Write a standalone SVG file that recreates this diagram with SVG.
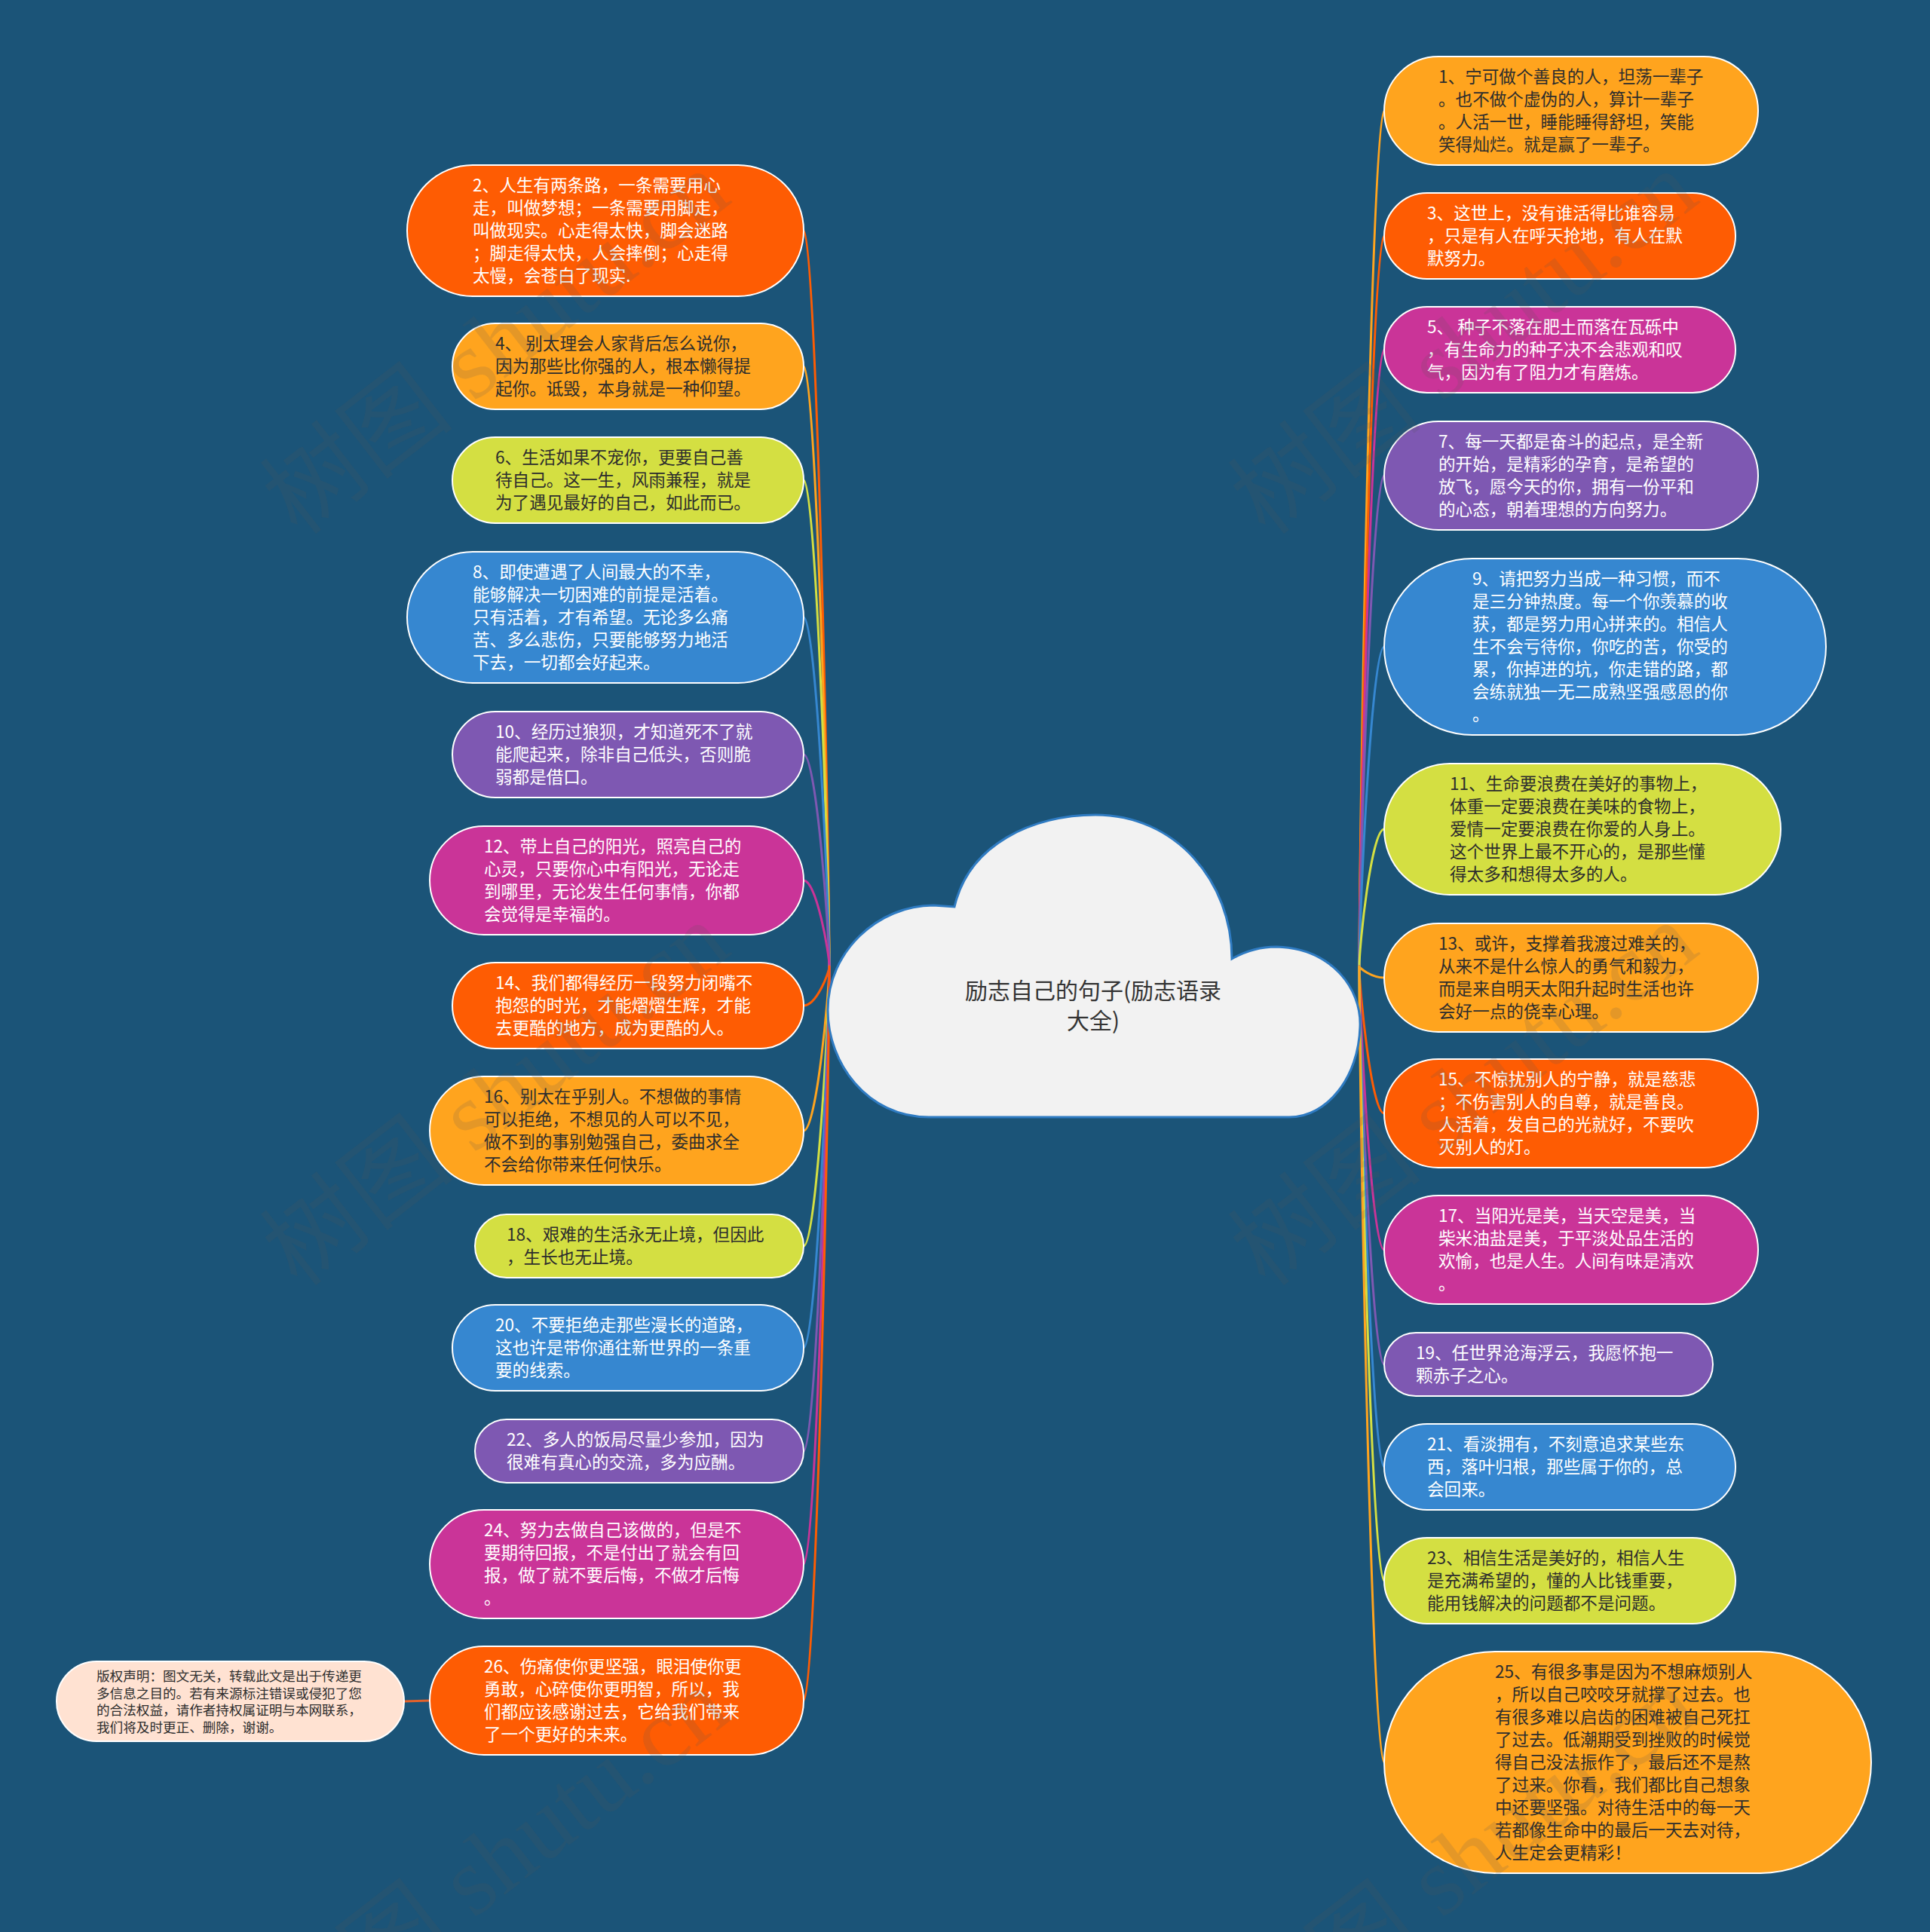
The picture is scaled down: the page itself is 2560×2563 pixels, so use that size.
<svg xmlns="http://www.w3.org/2000/svg" width="2560" height="2563" viewBox="0 0 2560 2563">
<style>
.node rect{stroke:#ffffff;stroke-width:2}
.node text{font-family:"Noto Sans CJK SC","Noto Sans",sans-serif;font-size:22.6px}
.w{fill:#ffffff}
.d{fill:#2d2d2d}
.or{fill:#FE5C03}.am{fill:#FFA41E}.yg{fill:#D4DF42}.bl{fill:#3687D0}.pu{fill:#7E58B2}.mg{fill:#CA3498}
.cn path{fill:none;stroke-width:3;stroke-linecap:round}
.sor{stroke:#FE5C03}.sam{stroke:#FFA41E}.syg{stroke:#D4DF42}.sbl{stroke:#3687D0}.spu{stroke:#7E58B2}.smg{stroke:#CA3498}
.wm text{font-family:"Liberation Serif","Noto Sans CJK SC",serif;font-size:130px;fill:#555555;fill-opacity:0.16}
</style>
<rect x="0" y="0" width="2560" height="2563" fill="#1B5478"/>
<g id="connectors" class="cn">
<path class="sor" d="M1066 306 C1083 306 1100 1136 1100 1282"/>
<path class="sam" d="M1066 486 C1083 486 1100 1163 1100 1282"/>
<path class="syg" d="M1066 637 C1083 637 1100 1185 1100 1282"/>
<path class="sbl" d="M1066 819 C1083 819 1100 1213 1100 1282"/>
<path class="spu" d="M1066 1001 C1083 1001 1100 1240 1100 1282"/>
<path class="smg" d="M1066 1168 C1083 1168 1100 1265 1100 1282"/>
<path class="sor" d="M1066 1334 C1083 1334 1100 1290 1100 1282"/>
<path class="sam" d="M1066 1500 C1083 1500 1100 1315 1100 1282"/>
<path class="syg" d="M1066 1653 C1083 1653 1100 1338 1100 1282"/>
<path class="sbl" d="M1066 1788 C1083 1788 1100 1358 1100 1282"/>
<path class="spu" d="M1066 1925 C1083 1925 1100 1378 1100 1282"/>
<path class="smg" d="M1066 2075 C1083 2075 1100 1401 1100 1282"/>
<path class="sor" d="M1066 2256 C1083 2256 1100 1428 1100 1282"/>
<path class="sam" d="M1836 147 C1819 147 1803 1112 1803 1282"/>
<path class="sor" d="M1836 313 C1819 313 1803 1137 1803 1282"/>
<path class="smg" d="M1836 464 C1819 464 1803 1159 1803 1282"/>
<path class="spu" d="M1836 631 C1819 631 1803 1184 1803 1282"/>
<path class="sbl" d="M1836 858 C1819 858 1803 1218 1803 1282"/>
<path class="syg" d="M1836 1100 C1819 1100 1803 1255 1803 1282"/>
<path class="sam" d="M1836 1297 C1819 1297 1803 1284 1803 1282"/>
<path class="sor" d="M1836 1477 C1819 1477 1803 1311 1803 1282"/>
<path class="smg" d="M1836 1658 C1819 1658 1803 1338 1803 1282"/>
<path class="spu" d="M1836 1810 C1819 1810 1803 1361 1803 1282"/>
<path class="sbl" d="M1836 1946 C1819 1946 1803 1382 1803 1282"/>
<path class="syg" d="M1836 2097 C1819 2097 1803 1404 1803 1282"/>
<path class="sam" d="M1836 2338 C1819 2338 1803 1440 1803 1282"/>
<path d="M570 2256 L536 2257" stroke="#E2622C" stroke-width="4"/>
</g>
<g id="root">
<path d="M1266 1203 C1285 1120 1370 1081 1453 1081 C1560 1081 1634 1170 1634 1272 C1655 1260 1675 1256 1693 1256 C1765 1258 1806 1310 1804 1362 C1802 1430 1760 1482 1710 1482 L1232 1482 C1150 1482 1098 1410 1098 1340 C1098 1262 1165 1201 1238 1201 Z" fill="#F2F2F2" stroke="#2F7BC2" stroke-width="3"/>
<text x="1450" y="1325" text-anchor="middle" font-family="Noto Sans CJK SC, sans-serif" font-size="30" fill="#333333">励志自己的句子(励志语录</text>
<text x="1450" y="1365" text-anchor="middle" font-family="Noto Sans CJK SC, sans-serif" font-size="30" fill="#333333">大全)</text>
</g>
<g id="n2" class="node"><rect class="or" x="540" y="219" width="526" height="174" rx="87"/><text class="w"><tspan x="627" y="254">2、人生有两条路，一条需要用心</tspan><tspan x="627" y="284">走，叫做梦想；一条需要用脚走，</tspan><tspan x="627" y="314">叫做现实。心走得太快，脚会迷路</tspan><tspan x="627" y="344">；脚走得太快，人会摔倒；心走得</tspan><tspan x="627" y="374">太慢，会苍白了现实.</tspan></text></g>
<g id="n4" class="node"><rect class="am" x="600" y="429" width="466" height="114" rx="57"/><text class="d"><tspan x="657" y="464">4、 别太理会人家背后怎么说你，</tspan><tspan x="657" y="494">因为那些比你强的人，根本懒得提</tspan><tspan x="657" y="524">起你。诋毁，本身就是一种仰望。</tspan></text></g>
<g id="n6" class="node"><rect class="yg" x="600" y="580" width="466" height="114" rx="57"/><text class="d"><tspan x="657" y="615">6、生活如果不宠你，更要自己善</tspan><tspan x="657" y="645">待自己。这一生，风雨兼程，就是</tspan><tspan x="657" y="675">为了遇见最好的自己，如此而已。</tspan></text></g>
<g id="n8" class="node"><rect class="bl" x="540" y="732" width="526" height="174" rx="87"/><text class="w"><tspan x="627" y="767">8、即使遭遇了人间最大的不幸，</tspan><tspan x="627" y="797">能够解决一切困难的前提是活着。</tspan><tspan x="627" y="827">只有活着，才有希望。无论多么痛</tspan><tspan x="627" y="857">苦、多么悲伤，只要能够努力地活</tspan><tspan x="627" y="887">下去，一切都会好起来。</tspan></text></g>
<g id="n10" class="node"><rect class="pu" x="600" y="944" width="466" height="114" rx="57"/><text class="w"><tspan x="657" y="979">10、经历过狼狈，才知道死不了就</tspan><tspan x="657" y="1009">能爬起来，除非自己低头，否则脆</tspan><tspan x="657" y="1039">弱都是借口。</tspan></text></g>
<g id="n12" class="node"><rect class="mg" x="570" y="1096" width="496" height="144" rx="72"/><text class="w"><tspan x="642" y="1131">12、带上自己的阳光，照亮自己的</tspan><tspan x="642" y="1161">心灵，只要你心中有阳光，无论走</tspan><tspan x="642" y="1191">到哪里，无论发生任何事情，你都</tspan><tspan x="642" y="1221">会觉得是幸福的。</tspan></text></g>
<g id="n14" class="node"><rect class="or" x="600" y="1277" width="466" height="114" rx="57"/><text class="w"><tspan x="657" y="1312">14、我们都得经历一段努力闭嘴不</tspan><tspan x="657" y="1342">抱怨的时光，才能熠熠生辉，才能</tspan><tspan x="657" y="1372">去更酷的地方，成为更酷的人。</tspan></text></g>
<g id="n16" class="node"><rect class="am" x="570" y="1428" width="496" height="144" rx="72"/><text class="d"><tspan x="642" y="1463">16、别太在乎别人。不想做的事情</tspan><tspan x="642" y="1493">可以拒绝，不想见的人可以不见，</tspan><tspan x="642" y="1523">做不到的事别勉强自己，委曲求全</tspan><tspan x="642" y="1553">不会给你带来任何快乐。</tspan></text></g>
<g id="n18" class="node"><rect class="yg" x="630" y="1611" width="436" height="84" rx="42"/><text class="d"><tspan x="672" y="1646">18、艰难的生活永无止境，但因此</tspan><tspan x="672" y="1676">，生长也无止境。</tspan></text></g>
<g id="n20" class="node"><rect class="bl" x="600" y="1731" width="466" height="114" rx="57"/><text class="w"><tspan x="657" y="1766">20、不要拒绝走那些漫长的道路，</tspan><tspan x="657" y="1796">这也许是带你通往新世界的一条重</tspan><tspan x="657" y="1826">要的线索。</tspan></text></g>
<g id="n22" class="node"><rect class="pu" x="630" y="1883" width="436" height="84" rx="42"/><text class="w"><tspan x="672" y="1918">22、多人的饭局尽量少参加，因为</tspan><tspan x="672" y="1948">很难有真心的交流，多为应酬。</tspan></text></g>
<g id="n24" class="node"><rect class="mg" x="570" y="2003" width="496" height="144" rx="72"/><text class="w"><tspan x="642" y="2038">24、努力去做自己该做的，但是不</tspan><tspan x="642" y="2068">要期待回报，不是付出了就会有回</tspan><tspan x="642" y="2098">报，做了就不要后悔，不做才后悔</tspan><tspan x="642" y="2128">。</tspan></text></g>
<g id="n26" class="node"><rect class="or" x="570" y="2184" width="496" height="144" rx="72"/><text class="w"><tspan x="642" y="2219">26、伤痛使你更坚强，眼泪使你更</tspan><tspan x="642" y="2249">勇敢，心碎使你更明智，所以，我</tspan><tspan x="642" y="2279">们都应该感谢过去，它给我们带来</tspan><tspan x="642" y="2309">了一个更好的未来。</tspan></text></g>
<g id="copyright" class="node"><rect x="75" y="2204" width="461" height="106" rx="53" fill="#FFE2D2"/><text class="d" style="font-size:17.6px"><tspan x="128" y="2230">版权声明：图文无关，转载此文是出于传递更</tspan><tspan x="128" y="2252.5">多信息之目的。若有来源标注错误或侵犯了您</tspan><tspan x="128" y="2275">的合法权益，请作者持权属证明与本网联系，</tspan><tspan x="128" y="2297.5">我们将及时更正、删除，谢谢。</tspan></text></g>
<g id="n1" class="node"><rect class="am" x="1836" y="75" width="496" height="144" rx="72"/><text class="d"><tspan x="1908" y="110">1、宁可做个善良的人，坦荡一辈子</tspan><tspan x="1908" y="140">。也不做个虚伪的人，算计一辈子</tspan><tspan x="1908" y="170">。人活一世，睡能睡得舒坦，笑能</tspan><tspan x="1908" y="200">笑得灿烂。就是赢了一辈子。</tspan></text></g>
<g id="n3" class="node"><rect class="or" x="1836" y="256" width="466" height="114" rx="57"/><text class="w"><tspan x="1893" y="291">3、这世上，没有谁活得比谁容易</tspan><tspan x="1893" y="321">，只是有人在呼天抢地，有人在默</tspan><tspan x="1893" y="351">默努力。</tspan></text></g>
<g id="n5" class="node"><rect class="mg" x="1836" y="407" width="466" height="114" rx="57"/><text class="w"><tspan x="1893" y="442">5、 种子不落在肥土而落在瓦砾中</tspan><tspan x="1893" y="472">，有生命力的种子决不会悲观和叹</tspan><tspan x="1893" y="502">气，因为有了阻力才有磨炼。</tspan></text></g>
<g id="n7" class="node"><rect class="pu" x="1836" y="559" width="496" height="144" rx="72"/><text class="w"><tspan x="1908" y="594">7、每一天都是奋斗的起点，是全新</tspan><tspan x="1908" y="624">的开始，是精彩的孕育，是希望的</tspan><tspan x="1908" y="654">放飞，愿今天的你，拥有一份平和</tspan><tspan x="1908" y="684">的心态，朝着理想的方向努力。</tspan></text></g>
<g id="n9" class="node"><rect class="bl" x="1836" y="741" width="586" height="234" rx="117"/><text class="w"><tspan x="1953" y="776">9、请把努力当成一种习惯，而不</tspan><tspan x="1953" y="806">是三分钟热度。每一个你羡慕的收</tspan><tspan x="1953" y="836">获，都是努力用心拼来的。相信人</tspan><tspan x="1953" y="866">生不会亏待你，你吃的苦，你受的</tspan><tspan x="1953" y="896">累，你掉进的坑，你走错的路，都</tspan><tspan x="1953" y="926">会练就独一无二成熟坚强感恩的你</tspan><tspan x="1953" y="956">。</tspan></text></g>
<g id="n11" class="node"><rect class="yg" x="1836" y="1013" width="526" height="174" rx="87"/><text class="d"><tspan x="1923" y="1048">11、生命要浪费在美好的事物上，</tspan><tspan x="1923" y="1078">体重一定要浪费在美味的食物上，</tspan><tspan x="1923" y="1108">爱情一定要浪费在你爱的人身上。</tspan><tspan x="1923" y="1138">这个世界上最不开心的，是那些懂</tspan><tspan x="1923" y="1168">得太多和想得太多的人。</tspan></text></g>
<g id="n13" class="node"><rect class="am" x="1836" y="1225" width="496" height="144" rx="72"/><text class="d"><tspan x="1908" y="1260">13、或许，支撑着我渡过难关的，</tspan><tspan x="1908" y="1290">从来不是什么惊人的勇气和毅力，</tspan><tspan x="1908" y="1320">而是来自明天太阳升起时生活也许</tspan><tspan x="1908" y="1350">会好一点的侥幸心理。</tspan></text></g>
<g id="n15" class="node"><rect class="or" x="1836" y="1405" width="496" height="144" rx="72"/><text class="w"><tspan x="1908" y="1440">15、不惊扰别人的宁静，就是慈悲</tspan><tspan x="1908" y="1470">；不伤害别人的自尊，就是善良。</tspan><tspan x="1908" y="1500">人活着，发自己的光就好，不要吹</tspan><tspan x="1908" y="1530">灭别人的灯。</tspan></text></g>
<g id="n17" class="node"><rect class="mg" x="1836" y="1586" width="496" height="144" rx="72"/><text class="w"><tspan x="1908" y="1621">17、当阳光是美，当天空是美，当</tspan><tspan x="1908" y="1651">柴米油盐是美，于平淡处品生活的</tspan><tspan x="1908" y="1681">欢愉，也是人生。人间有味是清欢</tspan><tspan x="1908" y="1711">。</tspan></text></g>
<g id="n19" class="node"><rect class="pu" x="1836" y="1768" width="436" height="84" rx="42"/><text class="w"><tspan x="1878" y="1803">19、任世界沧海浮云，我愿怀抱一</tspan><tspan x="1878" y="1833">颗赤子之心。</tspan></text></g>
<g id="n21" class="node"><rect class="bl" x="1836" y="1889" width="466" height="114" rx="57"/><text class="w"><tspan x="1893" y="1924">21、看淡拥有，不刻意追求某些东</tspan><tspan x="1893" y="1954">西，落叶归根，那些属于你的，总</tspan><tspan x="1893" y="1984">会回来。</tspan></text></g>
<g id="n23" class="node"><rect class="yg" x="1836" y="2040" width="466" height="114" rx="57"/><text class="d"><tspan x="1893" y="2075">23、相信生活是美好的，相信人生</tspan><tspan x="1893" y="2105">是充满希望的，懂的人比钱重要，</tspan><tspan x="1893" y="2135">能用钱解决的问题都不是问题。</tspan></text></g>
<g id="n25" class="node"><rect class="am" x="1836" y="2191" width="646" height="294" rx="147"/><text class="d"><tspan x="1983" y="2226">25、有很多事是因为不想麻烦别人</tspan><tspan x="1983" y="2256">，所以自己咬咬牙就撑了过去。也</tspan><tspan x="1983" y="2286">有很多难以启齿的困难被自己死扛</tspan><tspan x="1983" y="2316">了过去。低潮期受到挫败的时候觉</tspan><tspan x="1983" y="2346">得自己没法振作了，最后还不是熬</tspan><tspan x="1983" y="2376">了过来。你看，我们都比自己想象</tspan><tspan x="1983" y="2406">中还要坚强。对待生活中的每一天</tspan><tspan x="1983" y="2436">若都像生命中的最后一天去对待，</tspan><tspan x="1983" y="2466">人生定会更精彩！</tspan></text></g>
<g id="watermark" class="wm">
<text transform="translate(396 713) rotate(-37.7)">树图 shutu.cn</text>
<text transform="translate(1680 713) rotate(-37.7)">树图 shutu.cn</text>
<text transform="translate(396 1710) rotate(-37.7)">树图 shutu.cn</text>
<text transform="translate(1680 1710) rotate(-37.7)">树图 shutu.cn</text>
<text transform="translate(396 2725) rotate(-37.7)">树图 shutu.cn</text>
<text transform="translate(1680 2725) rotate(-37.7)">树图 shutu.cn</text>
</g>
</svg>
